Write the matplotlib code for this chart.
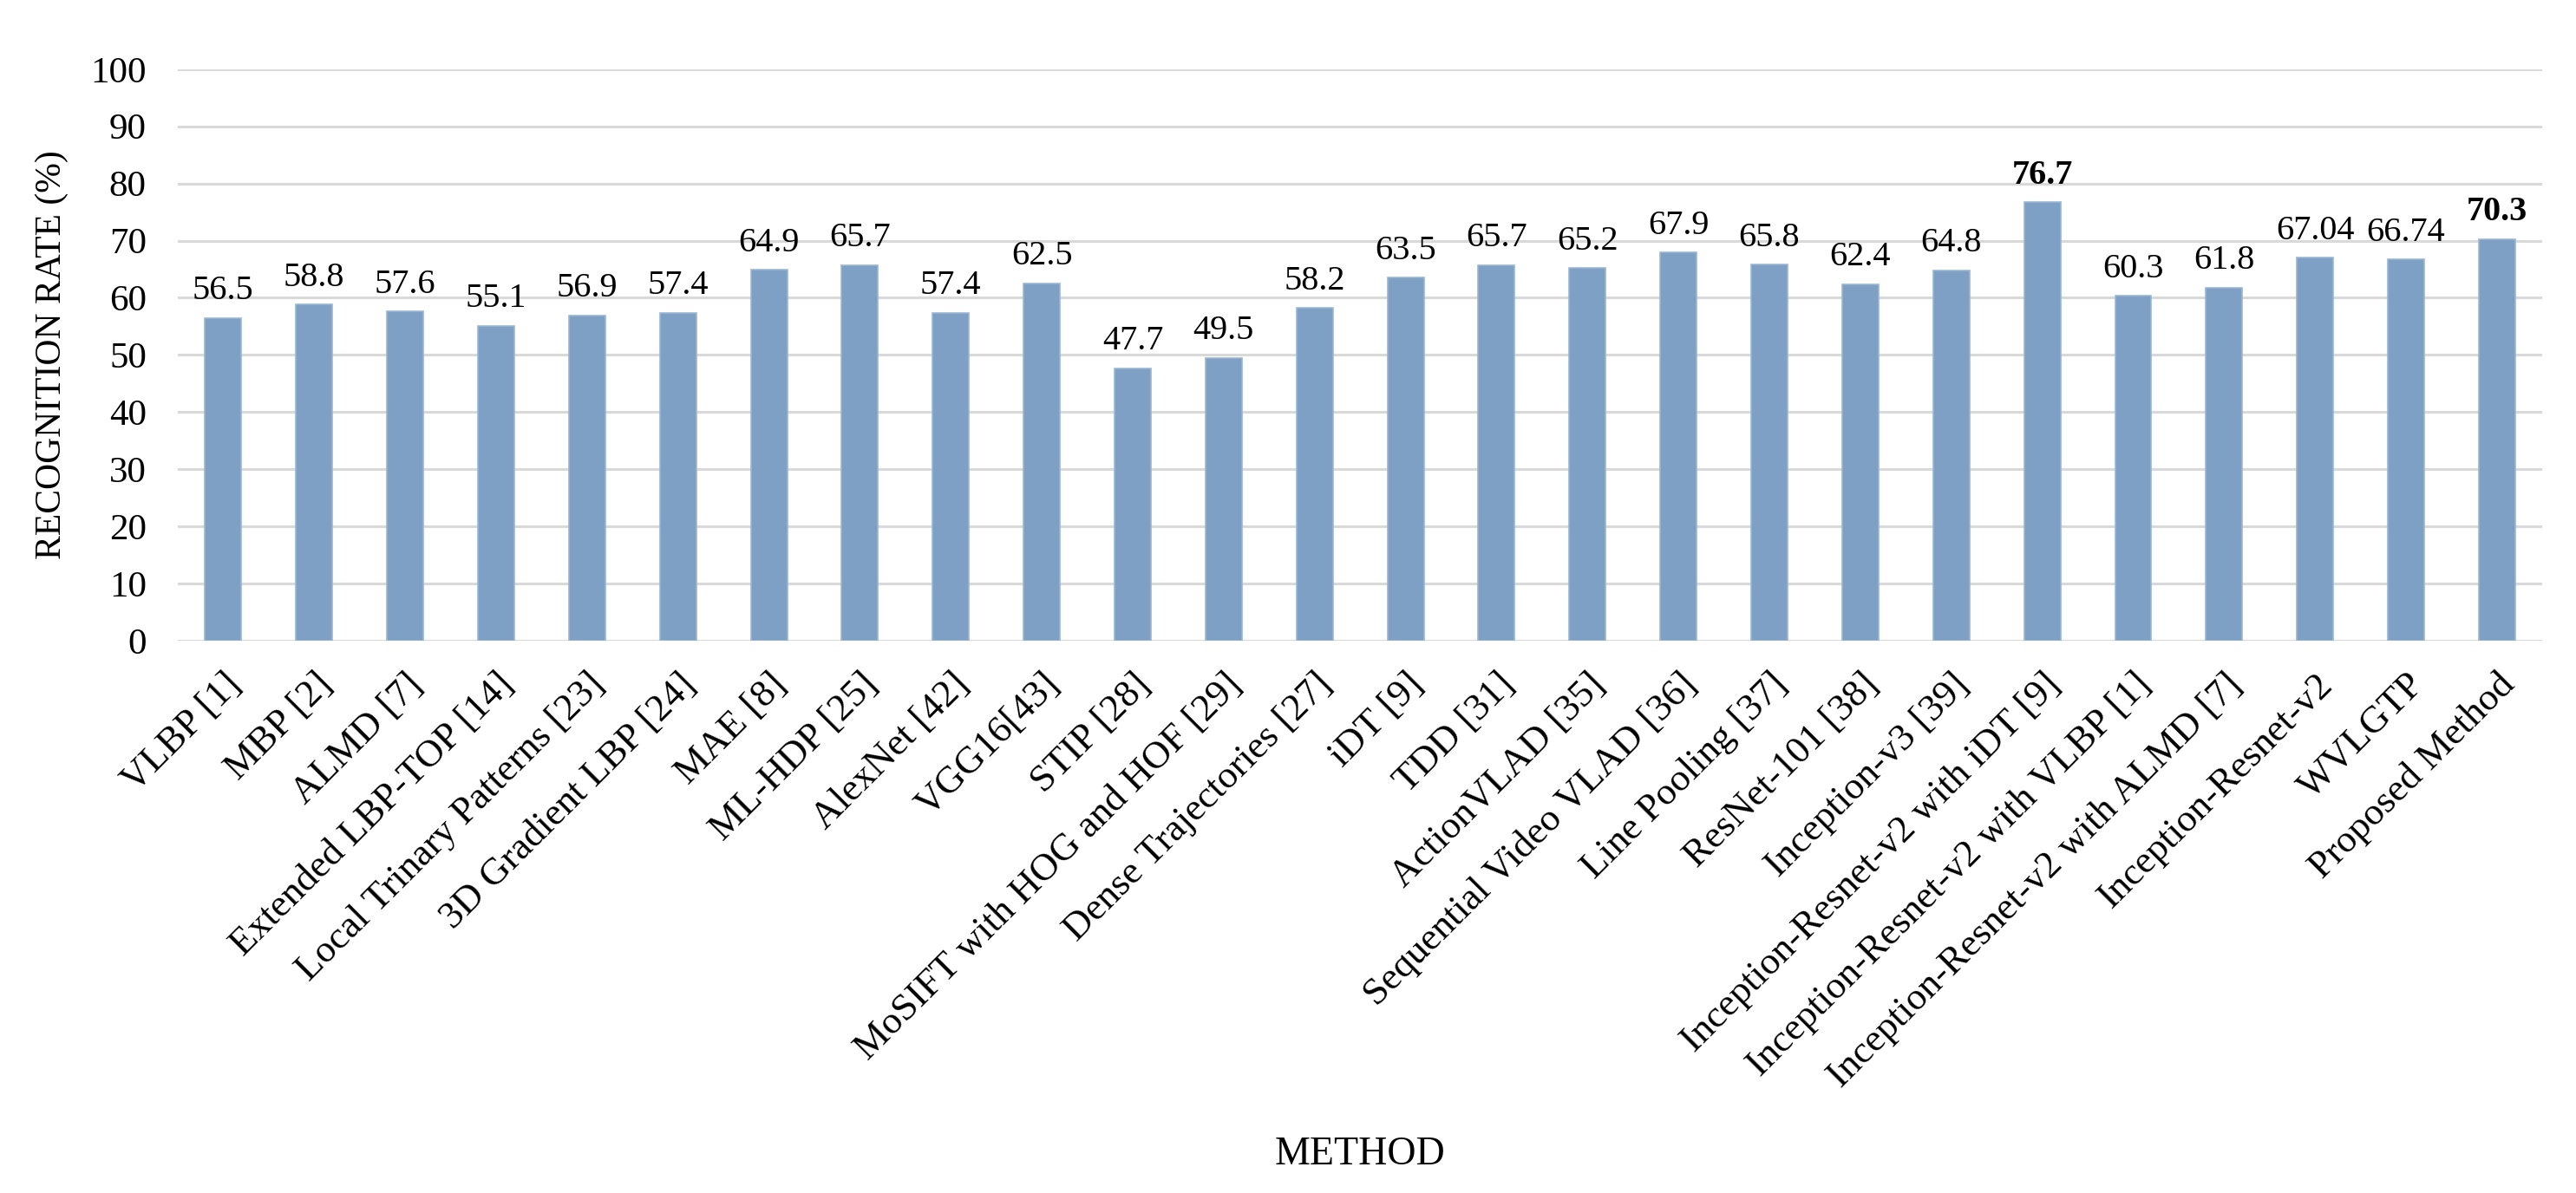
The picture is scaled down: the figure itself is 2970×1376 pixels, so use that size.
import matplotlib
matplotlib.use("Agg")
from matplotlib import pyplot as plt
import numpy as np

methods = [
    "VLBP [1]", "MBP [2]", "ALMD [7]", "Extended LBP-TOP [14]",
    "Local Trinary Patterns [23]", "3D Gradient LBP [24]", "MAE [8]",
    "ML-HDP [25]", "AlexNet [42]", "VGG16[43]", "STIP [28]",
    "MoSIFT with HOG and HOF [29]", "Dense Trajectories [27]", "iDT [9]",
    "TDD [31]", "ActionVLAD [35]", "Sequential Video VLAD [36]",
    "Line Pooling [37]", "ResNet-101 [38]", "Inception-v3 [39]",
    "Inception-Resnet-v2 with iDT [9]", "Inception-Resnet-v2 with VLBP [1]",
    "Inception-Resnet-v2 with ALMD [7]", "Inception-Resnet-v2", "WVLGTP",
    "Proposed Method",
]
rates = [56.5, 58.8, 57.6, 55.1, 56.9, 57.4, 64.9, 65.7, 57.4, 62.5, 47.7,
         49.5, 58.2, 63.5, 65.7, 65.2, 67.9, 65.8, 62.4, 64.8, 76.7, 60.3,
         61.8, 67.04, 66.74, 70.3]
bold_values = ["Inception-Resnet-v2 with iDT [9]", "Proposed Method"]
y_ticks = list(range(0, 101, 10))

plt.rcParams["font.family"] = ["Liberation Serif", "DejaVu Serif"]

fig = plt.figure(figsize=(29.7, 13.76), dpi=100)
ax = fig.add_axes([0.069, 0.463, 0.918, 0.479])

x = np.arange(len(methods))
bars = ax.bar(x, rates, width=0.4, color="#7DA0C4", edgecolor="#9BB6D4",
              linewidth=1.2, zorder=3)

# value labels above each bar
for rect, name, v in zip(bars, methods, rates):
    weight = "bold" if name in bold_values else "normal"
    ax.annotate(f"{v:g}", (rect.get_x() + rect.get_width() / 2, rect.get_height()),
                xytext=(0, 9), textcoords="offset points", ha="center",
                va="bottom", fontsize=29, fontweight=weight)

ax.set_xlim(-0.5, len(methods) - 0.5)
ax.set_ylim(0, 100)
ax.set_yticks(y_ticks)
ax.tick_params(axis="y", length=0, labelsize=31, pad=26)
ax.tick_params(axis="x", length=0, labelsize=32, pad=22)
ax.set_xticks(x)
ax.set_xticklabels(methods, rotation=45, ha="right", rotation_mode="anchor")

ax.grid(axis="y", color="#D9D9D9", linewidth=2.2, zorder=0)
ax.set_axisbelow(True)
for side in ["top", "right", "left", "bottom"]:
    ax.spines[side].set_visible(False)

ax.set_ylabel("RECOGNITION RATE (%)", fontsize=30, labelpad=18)
fig.text(0.5 * (0.069 + 0.987), 0.032, "METHOD", ha="center", va="center",
         fontsize=33)

fig.savefig("out.png", dpi=100)
